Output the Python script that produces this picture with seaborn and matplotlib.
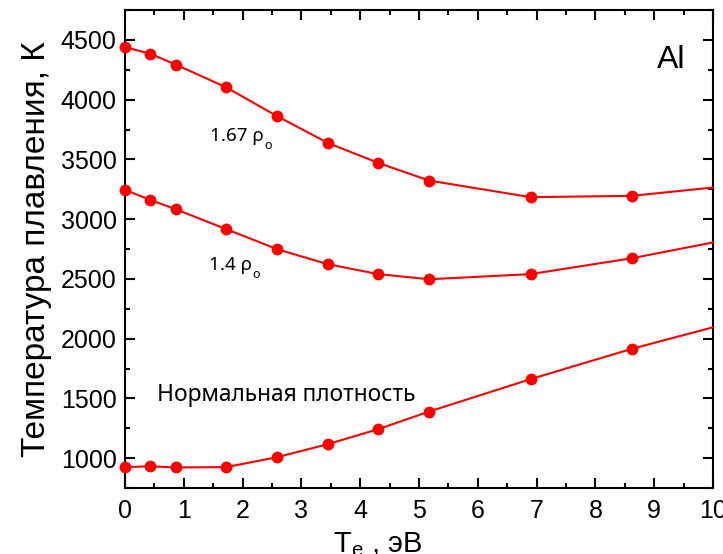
import pandas as pd
import seaborn as sns
import matplotlib.pyplot as plt
from matplotlib.ticker import MultipleLocator

# Electron temperature, eV (last entry is the right edge of the plot)
te_ev = [0.0, 0.431, 0.862, 1.724, 2.586, 3.448, 4.310, 5.172, 6.896, 8.620, 10.0]
n_points = 10  # computed points carrying a marker

# Melting temperature of Al, K
tm_rho167 = [4440, 4383, 4294, 4102, 3862, 3638, 3470, 3323, 3184, 3195, 3265]
tm_rho14 = [3245, 3161, 3083, 2916, 2749, 2623, 2540, 2497, 2540, 2673, 2805]
tm_normal = [925, 932, 922, 925, 1008, 1117, 1243, 1390, 1661, 1915, 2095]

density_labels = ["1.67 ρ", "1.4 ρ", "Нормальная плотность"]

df = pd.concat([
    pd.DataFrame({"Te": te_ev, "Tm": tm_rho167, "density": density_labels[0]}),
    pd.DataFrame({"Te": te_ev, "Tm": tm_rho14, "density": density_labels[1]}),
    pd.DataFrame({"Te": te_ev, "Tm": tm_normal, "density": density_labels[2]}),
])

sns.set_theme(style="ticks")
plt.rcParams["font.family"] = ["Liberation Sans", "DejaVu Sans"]
plt.rcParams["text.color"] = "black"
plt.rcParams["axes.labelcolor"] = "black"
plt.rcParams["mathtext.fontset"] = "custom"
plt.rcParams["mathtext.rm"] = "Liberation Sans"
plt.rcParams["mathtext.it"] = "Liberation Sans:italic"

fig = plt.figure(figsize=(7.23, 5.54), dpi=100)
ax = fig.add_axes([0.1729, 0.1191, 0.8133, 0.8628])

red = "#ff0000"
for name in density_labels:
    sub = df[df["density"] == name]
    sns.lineplot(data=sub, x="Te", y="Tm", ax=ax, color=red, linewidth=1.5,
                 marker="o", markersize=8.5, markeredgewidth=0,
                 markeredgecolor=red, markevery=list(range(n_points)),
                 clip_on=False, zorder=3, legend=False)

ax.set_xlim(0, 10)
ax.set_ylim(750, 4750)
ax.xaxis.set_major_locator(MultipleLocator(1))
ax.xaxis.set_minor_locator(MultipleLocator(0.5))
ax.yaxis.set_major_locator(MultipleLocator(500))
ax.yaxis.set_minor_locator(MultipleLocator(250))
ax.tick_params(which="both", direction="in", top=True, right=True,
               width=1.5, color="black", labelcolor="black")
ax.tick_params(which="major", length=7.5, labelsize=18)
ax.tick_params(which="minor", length=3.8)
ax.tick_params(axis="x", which="major", pad=8)
ax.tick_params(axis="y", which="major", pad=6)
for sp in ax.spines.values():
    sp.set_linewidth(1.5)
    sp.set_color("black")

ax.set_xlabel("")
ax.set_ylabel("Температура плавления, К", fontsize=24, color="black")
ax.yaxis.set_label_coords(-0.124, 0.5)
ax.text(0.43, -0.134, "T$_\\mathregular{e}$ , эВ", transform=ax.transAxes,
        ha="center", va="baseline", fontsize=21, color="black")

# Curve annotations
note_font = ["Noto Sans", "DejaVu Sans"]
for label, (x, y) in zip(density_labels[:2], [(1.446, 3657), (1.43, 2575)]):
    t = ax.text(x, y, label, fontsize=13.6, family=note_font, color="black",
                ha="left", va="baseline")
    ax.annotate("o", xy=(1, 0), xycoords=t, xytext=(0.5, -3),
                textcoords="offset points", fontsize=9, family=note_font,
                color="black", ha="left", va="baseline")
ax.text(0.544, 1477, density_labels[2], fontsize=16.4, family=note_font,
        color="black", ha="left", va="baseline")

ax.text(0.905, 0.879, "Al", transform=ax.transAxes, fontsize=23,
        color="black", ha="left", va="baseline")

fig.savefig("out.png", dpi=100)
